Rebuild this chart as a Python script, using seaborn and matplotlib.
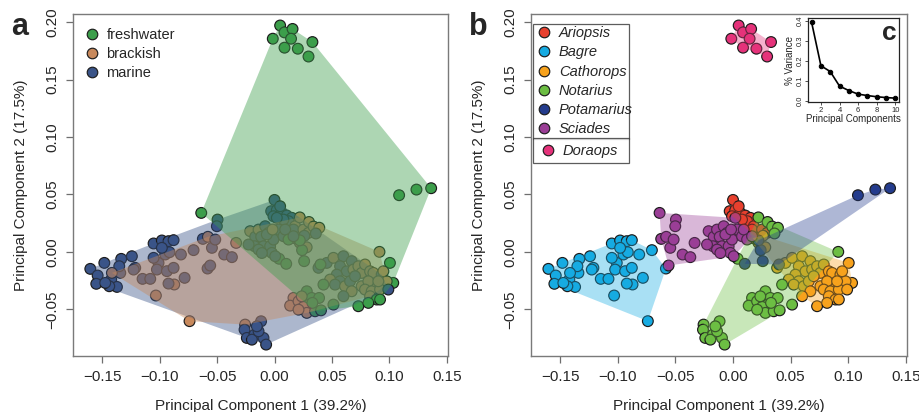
import numpy as np
import pandas as pd
import seaborn as sns
import matplotlib.pyplot as plt
from matplotlib.patches import Polygon
from matplotlib.lines import Line2D

# PCA scores, one block per genus
# habitat codes: f = freshwater, b = brackish, m = marine
ariopsis_x = [0.0000, -0.0029, 0.0020, 0.0064, 0.0107, 0.0151, 0.0122, 0.0078, 0.0180, 0.0209,
              0.0165, 0.0049, -0.0009, 0.0223, 0.0252, 0.0296]
ariopsis_y = [0.0452, 0.0354, 0.0363, 0.0339, 0.0316, 0.0296, 0.0267, 0.0281, 0.0223, 0.0165,
              0.0194, 0.0397, 0.0310, 0.0107, 0.0194, 0.0165]
ariopsis_hab = "mmmmmmmmbbmmmbbb"

bagre_x = [-0.1604, -0.1540, -0.1552, -0.1482, -0.1422, -0.1372, -0.1439, -0.1343, -0.1335, -0.1352,
           -0.1242, -0.1213, -0.1149, -0.1082, -0.1053, -0.0981, -0.0923, -0.0879, -0.1010, -0.0952,
           -0.0914, -0.1024, -0.0937, -0.0879, -0.0815, -0.0705, -0.0783, -0.0873, -0.0923, -0.1033,
           -0.0740, -0.0583, -0.1416, -0.1474, -0.1227, -0.0981, -0.1053]
bagre_y = [-0.0148, -0.0206, -0.0278, -0.0096, -0.0241, -0.0305, -0.0299, -0.0183, -0.0061, -0.0125,
           -0.0038, -0.0139, -0.0235, -0.0235, 0.0073, 0.0099, 0.0093, 0.0102, -0.0096, -0.0023,
           -0.0003, -0.0154, -0.0168, -0.0139, -0.0023, 0.0015, -0.0226, -0.0284, -0.0276, -0.0380,
           -0.0603, -0.0145, -0.0183, -0.0270, -0.0154, 0.0035, -0.0052]
bagre_hab = "mmmmmmmmmmmmmmmmmmmmmmmmmmmbmbbmbmmmm"

cathorops_x = [0.0383, 0.0455, 0.0513, 0.0600, 0.0672, 0.0571, 0.0629, 0.0687, 0.0542, 0.0484,
               0.0571, 0.0527, 0.0614, 0.0658, 0.0730, 0.0759, 0.0701, 0.0788, 0.0832, 0.0759,
               0.0672, 0.0600, 0.1005, 0.0861, 0.0933, 0.1034, 0.0977, 0.0890, 0.0817, 0.0788,
               0.0846, 0.0919, 0.0991, 0.0832, 0.0890, 0.0730, 0.0817, 0.0919, 0.0904, 0.0948,
               0.0170, 0.0220, 0.0260, 0.0280]
cathorops_y = [-0.0139, -0.0096, -0.0052, -0.0038, -0.0081, -0.0125, -0.0169, -0.0154, -0.0198, -0.0241,
               -0.0256, -0.0285, -0.0299, -0.0256, -0.0125, -0.0183, -0.0212, -0.0110, -0.0169, -0.0299,
               -0.0343, -0.0386, -0.0096, -0.0183, -0.0198, -0.0270, -0.0256, -0.0270, -0.0256, -0.0328,
               -0.0343, -0.0328, -0.0328, -0.0386, -0.0415, -0.0473, -0.0444, -0.0415, -0.0256, -0.0169,
               0.0120, 0.0080, 0.0140, 0.0040]
cathorops_hab = "mmbmmmmbmbmmbmbbmbbbbmfbmfbbbbbbmbffffbbbbmb"

notarius_x = [-0.0256, -0.0117, -0.0261, -0.0241, -0.0174, -0.0197, -0.0096, -0.0073, -0.0139, -0.0154,
              0.0165, 0.0136, 0.0209, 0.0281, 0.0324, 0.0301, 0.0252, 0.0281, 0.0353, 0.0405,
              0.0388, 0.0330, 0.0426, 0.0513, 0.0209, 0.0237,
              0.0220, 0.0300, 0.0340, 0.0390, 0.0360, 0.0914, 0.0040]
notarius_y = [-0.0633, -0.0604, -0.0677, -0.0749, -0.0720, -0.0764, -0.0749, -0.0807, -0.0691, -0.0648,
              -0.0401, -0.0468, -0.0430, -0.0343, -0.0401, -0.0459, -0.0479, -0.0531, -0.0517, -0.0509,
              -0.0401, -0.0444, -0.0285, -0.0459, -0.0503, -0.0387,
              0.0300, 0.0260, 0.0220, 0.0210, 0.0160, 0.0000, -0.0060]
notarius_hab = "bmmmmmmmmm" + "bbbffbbbffffffbb" + "bbbbm" + "bf"

potamarius_x = [0.0102, 0.0258, 0.0240, 0.0220, 0.0400, 0.1085, 0.1236, 0.1364]
potamarius_y = [-0.0104, -0.0081, 0.0015, 0.0100, -0.0110, 0.0493, 0.0542, 0.0554]
potamarius_hab = "ffffffff"

sciades_x = [-0.0638, -0.0496, -0.0502, -0.0624, -0.0580, -0.0545, -0.0516, -0.0438, -0.0371, -0.0334,
             -0.0560, -0.0212, -0.0168, -0.0139, -0.0174, -0.0116, -0.0096, -0.0081, -0.0052, -0.0038,
             -0.0009, 0.0020, 0.0035, 0.0078, 0.0093, 0.0122, 0.0165, -0.0023, 0.0006, -0.0139,
             -0.0226, -0.0110, -0.0067, -0.0017]
sciades_y = [0.0339, 0.0281, 0.0223, 0.0113, 0.0131, 0.0035, 0.0107, -0.0023, -0.0046, 0.0078,
             -0.0119, 0.0180, 0.0131, 0.0194, 0.0049, 0.0131, 0.0049, 0.0223, 0.0165, 0.0049,
             0.0107, 0.0296, 0.0194, 0.0136, 0.0194, 0.0107, 0.0136, -0.0009, -0.0038, 0.0020,
             0.0064, -0.0010, 0.0151, 0.0194]
sciades_hab = "fmmmbmmmmbmbmbmmmmbmmmmmmfmmmmmmmb"

doraops_x = [0.0049, 0.0087, 0.0157, -0.0015, 0.0144, 0.0330, 0.0087, 0.0203, 0.0296]
doraops_y = [0.1970, 0.1910, 0.1940, 0.1855, 0.1855, 0.1826, 0.1777, 0.1768, 0.1700]
doraops_hab = "fffffffff"

# scree plot (panel c)
pc_number = [1, 2, 3, 4, 5, 6, 7, 8, 9, 10]
pc_variance = [0.392, 0.175, 0.146, 0.073, 0.051, 0.033, 0.026, 0.020, 0.016, 0.013]

genera = ["Ariopsis", "Bagre", "Cathorops", "Notarius", "Potamarius", "Sciades", "Doraops"]
genus_colors = {"Ariopsis": "#E8402E", "Bagre": "#16ABE2", "Cathorops": "#F7A21C",
                "Notarius": "#6CBE43", "Potamarius": "#243C8D", "Sciades": "#9A3E96",
                "Doraops": "#E5327A"}
habitats = ["freshwater", "brackish", "marine"]
habitat_colors = {"freshwater": "#3C9E4B", "brackish": "#C8895C", "marine": "#3A5488"}
hab_names = {"f": "freshwater", "b": "brackish", "m": "marine"}

blocks = [("Ariopsis", ariopsis_x, ariopsis_y, ariopsis_hab),
          ("Bagre", bagre_x, bagre_y, bagre_hab),
          ("Cathorops", cathorops_x, cathorops_y, cathorops_hab),
          ("Notarius", notarius_x, notarius_y, notarius_hab),
          ("Potamarius", potamarius_x, potamarius_y, potamarius_hab),
          ("Sciades", sciades_x, sciades_y, sciades_hab),
          ("Doraops", doraops_x, doraops_y, doraops_hab)]
df = pd.concat([pd.DataFrame({"pc1": x, "pc2": y, "genus": g,
                              "habitat": [hab_names[h] for h in hab]})
                for g, x, y, hab in blocks], ignore_index=True)


def convex_hull(points):
    pts = sorted(set(map(tuple, points)))

    def cross(o, a, b):
        return (a[0] - o[0]) * (b[1] - o[1]) - (a[1] - o[1]) * (b[0] - o[0])

    lower, upper = [], []
    for p in pts:
        while len(lower) >= 2 and cross(lower[-2], lower[-1], p) <= 0:
            lower.pop()
        lower.append(p)
    for p in reversed(pts):
        while len(upper) >= 2 and cross(upper[-2], upper[-1], p) <= 0:
            upper.pop()
        upper.append(p)
    return np.array(lower[:-1] + upper[:-1])


sns.set_style("ticks")
plt.rcParams["font.family"] = ["Liberation Sans", "DejaVu Sans"]
plt.rcParams["axes.unicode_minus"] = True

fig = plt.figure(figsize=(9.19, 4.12), dpi=100)
ax_a = fig.add_axes([0.0794, 0.136, 0.408, 0.830])
ax_b = fig.add_axes([0.5778, 0.136, 0.409, 0.830])
ax_c = fig.add_axes([0.8795, 0.753, 0.0985, 0.2025])

point_kw = dict(s=60, edgecolor="#1c1c1c", linewidth=0.85, legend=False, zorder=2)

# panel a: habitat
sns.scatterplot(data=df, x="pc1", y="pc2", hue="habitat", hue_order=habitats,
                palette=habitat_colors, ax=ax_a, **point_kw)
for hab in ["marine", "brackish", "freshwater"]:
    sub = df[df.habitat == hab]
    ax_a.add_patch(Polygon(convex_hull(sub[["pc1", "pc2"]].values), closed=True,
                           facecolor=habitat_colors[hab], alpha=0.42, lw=0, zorder=3))

# panel b: genus
sns.scatterplot(data=df, x="pc1", y="pc2", hue="genus", hue_order=genera,
                palette=genus_colors, ax=ax_b, **point_kw)
for g in genera:
    sub = df[df.genus == g]
    ax_b.add_patch(Polygon(convex_hull(sub[["pc1", "pc2"]].values), closed=True,
                           facecolor=genus_colors[g], alpha=0.37, lw=0, zorder=3))

for ax in [ax_a, ax_b]:
    ax.set_xlim(-0.1755, 0.151)
    ax.set_ylim(-0.0906, 0.207)
    ax.set_xticks([-0.15, -0.10, -0.05, 0.00, 0.05, 0.10, 0.15])
    ax.set_yticks([-0.05, 0.00, 0.05, 0.10, 0.15, 0.20])
    ax.set_xticklabels(["\u22120.15", "\u22120.10", "\u22120.05", "0.00", "0.05", "0.10", "0.15"])
    ax.set_yticklabels(["\u22120.05", "0.00", "0.05", "0.10", "0.15", "0.20"],
                       rotation=90, va="center")
    ax.tick_params(length=5, width=0.9, color="#6e6e6e", labelsize=11, pad=5)
    for sp in ax.spines.values():
        sp.set_visible(True)
        sp.set_color("#7a7a7a")
        sp.set_linewidth(1.0)
    ax.set_xlabel("Principal Component 1 (39.2%)", fontsize=11, labelpad=11)
    ax.set_ylabel("Principal Component 2 (17.5%)", fontsize=11, labelpad=12)


def handle(c):
    return Line2D([], [], ls="", marker="o", markersize=7.6, markerfacecolor=c,
                  markeredgecolor="#1c1c1c", markeredgewidth=0.85)


ax_a.legend([handle(habitat_colors[h]) for h in habitats], habitats, loc="upper left",
            bbox_to_anchor=(0.0, 0.99), frameon=False, fontsize=10.5,
            handletextpad=0.4, labelspacing=0.35, handlelength=1.2, borderpad=0.2)

leg_kw = dict(loc="upper left", mode="expand", frameon=True, fancybox=False,
              handletextpad=0.4, handlelength=1.2, borderaxespad=0,
              prop={"style": "italic", "size": 10.5})
main = genera[:-1]
leg1 = ax_b.legend([handle(genus_colors[g]) for g in main], main,
                   bbox_to_anchor=(0.006, 0.637, 0.256, 0.334), labelspacing=0.36,
                   borderpad=0.15, **leg_kw)
leg1.get_frame().set_edgecolor("#333333")
leg1.get_frame().set_linewidth(0.9)
leg1.set_zorder(5)
ax_b.add_artist(leg1)
leg2 = ax_b.legend([handle(genus_colors["Doraops"])], ["Doraops"],
                   bbox_to_anchor=(0.006, 0.553, 0.256, 0.084), labelspacing=0.2,
                   borderpad=0.38, **leg_kw)
leg2.get_frame().set_edgecolor("#333333")
leg2.get_frame().set_linewidth(0.9)
leg2.set_zorder(5)

# panel c: scree plot
sns.lineplot(x=pc_number, y=pc_variance, color="black", marker="o", markersize=3.2,
             markeredgecolor="black", linewidth=1.2, ax=ax_c)
ax_c.set_xlim(0.64, 10.36)
ax_c.set_ylim(-0.005, 0.412)
ax_c.set_xticks([2, 4, 6, 8, 10])
ax_c.set_yticks([0.0, 0.1, 0.2, 0.3, 0.4])
ax_c.set_yticklabels(["0.0", "0.1", "0.2", "0.3", "0.4"], rotation=90, va="center")
ax_c.tick_params(length=2, width=0.6, labelsize=5.5, pad=1.5, color="#333333")
ax_c.set_xlabel("Principal Components", fontsize=7, labelpad=0)
ax_c.set_ylabel("% Variance", fontsize=7, labelpad=1)
for sp in ax_c.spines.values():
    sp.set_visible(True)
    sp.set_color("#222222")
    sp.set_linewidth(0.9)
ax_c.text(0.9, 0.82, "c", transform=ax_c.transAxes, fontsize=19, fontweight="bold",
          ha="center", va="center")

fig.text(0.021, 0.935, "a", fontsize=22, fontweight="bold", ha="center", va="center")
fig.text(0.520, 0.935, "b", fontsize=22, fontweight="bold", ha="center", va="center")

fig.savefig("out.png", dpi=100)
